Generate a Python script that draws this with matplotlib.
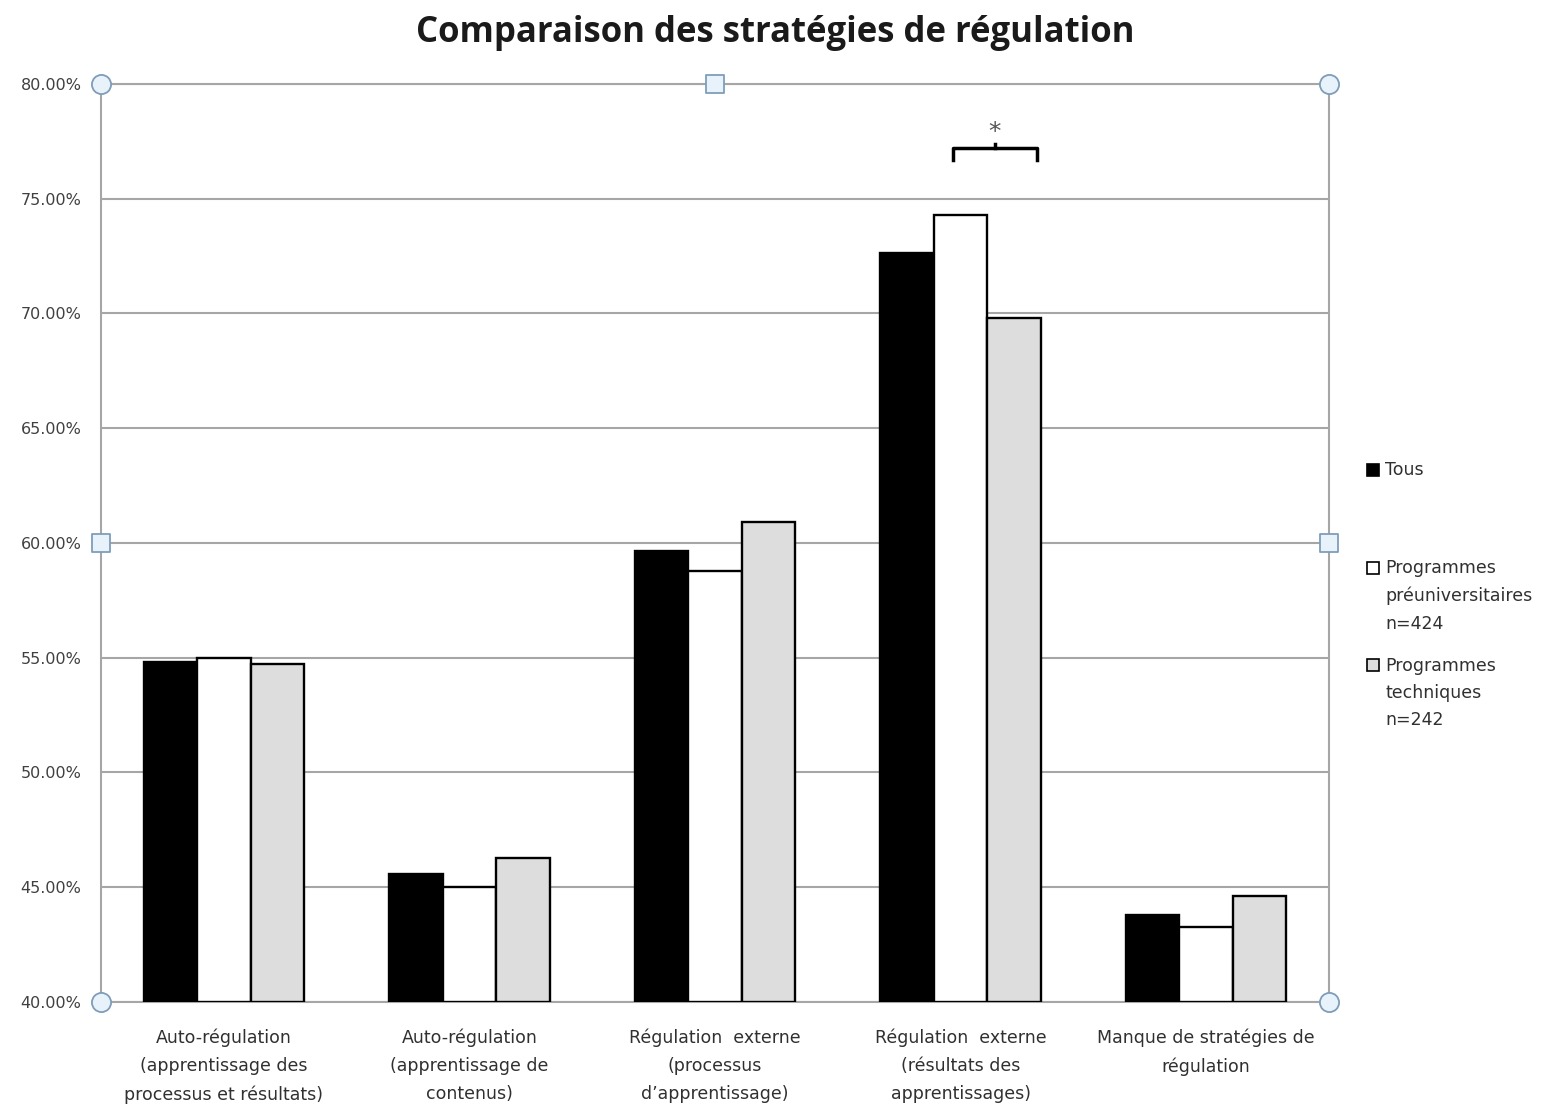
import numpy as np
import matplotlib
matplotlib.use("Agg")
import matplotlib.pyplot as plt
from matplotlib.patches import Rectangle

# data (percent)
categories = [
    "Auto-régulation\n(apprentissage des\nprocessus et résultats)",
    "Auto-régulation\n(apprentissage de\ncontenus)",
    "Régulation  externe\n(processus\nd\u2019apprentissage)",
    "Régulation  externe\n(résultats des\napprentissages)",
    "Manque de stratégies de\nrégulation",
]
tous = [54.81, 45.58, 59.65, 72.64, 43.79]
preuniv = [54.99, 45.01, 58.78, 74.29, 43.27]
techniques = [54.73, 46.27, 60.92, 69.80, 44.62]
series_labels = ["Tous", "Programmes\npréuniversitaires\nn=424", "Programmes\ntechniques\nn=242"]
series_colors = ["#000000", "#ffffff", "#dddddd"]
yticks = [40, 45, 50, 55, 60, 65, 70, 75, 80]

fig = plt.figure(figsize=(15.43, 11.07), dpi=100)
ax = fig.add_axes([0.0655, 0.0949, 0.7958, 0.8293])

x = np.arange(len(categories))
w = 0.218
for k, (vals, col) in enumerate(zip([tous, preuniv, techniques], series_colors)):
    ax.bar(x + (k - 1) * w, np.array(vals) - 40, bottom=40, width=w,
           color=col, edgecolor="black", linewidth=1.7, zorder=3)

ax.set_xlim(-0.5, len(categories) - 0.5)
ax.set_ylim(40, 80)
ax.set_yticks(yticks)
ax.set_yticklabels(["%.2f%%" % v for v in yticks], fontsize=11.5, color="#404040")
ax.tick_params(axis="y", length=0, pad=14)
ax.set_xticks(x)
ax.set_xticklabels(categories, fontsize=12.5, color="#303030", linespacing=1.72)
ax.tick_params(axis="x", length=0, pad=19)
ax.grid(axis="y", color="#a6a6a6", linewidth=1.5, zorder=0)
for s in ax.spines.values():
    s.set_color("#a6a6a6")
    s.set_linewidth(1.5)

# significance bracket over group 4
bx0, bx1, by = 2.97, 3.31, 77.2
ax.plot([bx0, bx0, bx1, bx1], [by - 0.5, by, by, by - 0.5], color="black", lw=2.5,
        clip_on=False, zorder=4)
ax.plot([(bx0 + bx1) / 2] * 2, [by, by + 0.2], color="black", lw=2.5, zorder=4)
ax.text((bx0 + bx1) / 2, by + 0.2, "*", ha="center", va="bottom", fontsize=18,
        color="#555555")

# selection handles of the chart plot area
hx = [-0.5, 4.5, -0.5, 4.5]
hy = [80, 80, 40, 40]
ax.scatter(hx, hy, s=190, marker="o", facecolor="#e8f2fa", edgecolor="#7f9db9",
           linewidth=1.3, clip_on=False, zorder=6)
ax.scatter([2.0, -0.5, 4.5], [80, 60, 60], s=150, marker="s", facecolor="#e8f2fa",
           edgecolor="#7f9db9", linewidth=1.3, clip_on=False, zorder=6)

fig.text(0.5025, 0.970, "Comparaison des stratégies de régulation", ha="center",
         va="center", fontsize=25, fontweight="bold", family="Open Sans", color="#1a1a1a")

# legend drawn by hand to match the uneven spacing
leg_y = [470, 596, 693]
for lab, col, yy in zip(series_labels, series_colors, leg_y):
    yf = 1 - yy / 1107
    nlines = lab.count("\n") + 1
    top = yf + (nlines - 1) * 14 / 1107
    fig.add_artist(Rectangle((1367 / 1543, top - 6 / 1107), 12 / 1543, 12 / 1107,
                             transform=fig.transFigure, facecolor=col,
                             edgecolor="black", linewidth=1.2))
    fig.text(1385 / 1543, yf, lab, ha="left", va="center", fontsize=12.5,
             color="#303030", linespacing=1.65)

fig.savefig("out.png", dpi=100, facecolor="white")
